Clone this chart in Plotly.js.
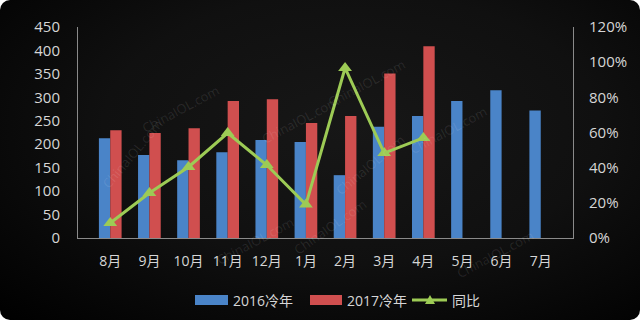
<!DOCTYPE html>
<html>
<head>
<meta charset="utf-8">
<script src="https://cdn.plot.ly/plotly-3.0.1.min.js"></script>
<style>
html,body{margin:0;padding:0;background:#ffffff;}
#wrap{width:640px;height:320px;border-radius:10px;overflow:hidden;background:radial-gradient(ellipse at 55% 40%, #171717 0%, #101010 50%, #000000 100%);}
#chart{width:640px;height:320px;}
</style>
</head>
<body>
<div id="wrap"><div id="chart"></div></div>
<script>
const months = ["8月","9月","10月","11月","12月","1月","2月","3月","4月","5月","6月","7月"];
const y2016 = [213,177,166,183,209,205,134,237,260,292,315,272];
const y2017 = [230,224,234,292,296,245,260,351,409,null,null,null];
const yoy = [0.085,0.256,0.404,0.597,0.415,0.19,0.967,0.483,0.569,null,null,null];
const leftTicks = [0,50,100,150,200,250,300,350,400,450];
const rightTicks = [0,0.2,0.4,0.6,0.8,1.0,1.2];
const seriesNames = ["2016冷年","2017冷年","同比"];

const fontFam = "Open Sans, Noto Sans CJK SC, sans-serif";
const txt = "#d6d6d6";
const cBlue = "#4a84c8", cRed = "#d04f4f", cGreen = "#9dcb55";

const data = [
  {type:"bar", name:seriesNames[0], x:months, y:y2016, marker:{color:cBlue}},
  {type:"bar", name:seriesNames[1], x:months, y:y2017, marker:{color:cRed}},
  {type:"scatter", mode:"lines+markers", name:seriesNames[2], x:months, y:yoy, yaxis:"y2",
   line:{color:cGreen, width:3}, marker:{symbol:"triangle-up", size:12, color:cGreen}}
];

// pixel -> paper helpers
const PX = px => (px-78)/495, PY = py => (238-py)/211;

const wm = [[136,78,-28],[95,195,-50],[411,52,-28],[493,130,-28],[370,165,-40],[255,272,-28],[330,262,-35],[540,285,-28],[300,120,-28]];
const annotations = wm.map(p=>({xref:"paper",yref:"paper",
  x:PX(p[0]), y:PY(p[1]), text:"ChinaIOL.com", showarrow:false, textangle:p[2],
  font:{family:fontFam,size:13,color:"rgba(255,255,255,0.10)"}}));

// custom legend
const legY = 300;
const shapes = [
  {type:"rect", xref:"paper", yref:"paper", x0:PX(195), x1:PX(228), y0:PY(legY+5), y1:PY(legY-5), fillcolor:cBlue, line:{width:0}},
  {type:"rect", xref:"paper", yref:"paper", x0:PX(310), x1:PX(342), y0:PY(legY+5), y1:PY(legY-5), fillcolor:cRed, line:{width:0}},
  {type:"line", xref:"paper", yref:"paper", x0:PX(412), x1:PX(447), y0:PY(legY), y1:PY(legY), line:{color:cGreen,width:3}},
  {type:"path", xref:"paper", yref:"paper", path:`M ${PX(425)} ${PY(legY+4)} L ${PX(435)} ${PY(legY+4)} L ${PX(430)} ${PY(legY-5)} Z`, fillcolor:cGreen, line:{width:0}}
];
[[231,0],[345,1],[450,2]].forEach(([px,i])=>annotations.push({xref:"paper",yref:"paper",x:PX(px),y:PY(legY),
  xanchor:"left",yanchor:"middle",text:seriesNames[i],showarrow:false,font:{family:fontFam,size:14,color:txt}}));

const layout = {
  width:640, height:320,
  paper_bgcolor:"rgba(0,0,0,0)", plot_bgcolor:"rgba(0,0,0,0)",
  margin:{l:78, r:67, t:27, b:82},
  barmode:"group", bargap:0.42, bargroupgap:0,
  font:{family:fontFam, size:14, color:txt},
  showlegend:false,
  xaxis:{showline:true, linecolor:"#8a8a8a", linewidth:1, ticks:"", showgrid:false,
    tickfont:{size:14,color:txt}, ticklabelstandoff:10},
  yaxis:{range:[0,450], tickvals:leftTicks, showline:true, linecolor:"#8a8a8a", linewidth:1,
    showgrid:false, zeroline:false, ticks:"", tickfont:{size:15,color:txt}, ticklabelstandoff:14},
  yaxis2:{range:[0,1.2], tickvals:rightTicks, tickformat:".0%", overlaying:"y", side:"right",
    showline:true, linecolor:"#8a8a8a", linewidth:1, showgrid:false, zeroline:false, ticks:"",
    tickfont:{size:15,color:txt}, ticklabelstandoff:12},
  annotations:annotations, shapes:shapes
};
Plotly.newPlot("chart", data, layout, {displayModeBar:false, staticPlot:true});
</script>
</body>
</html>
